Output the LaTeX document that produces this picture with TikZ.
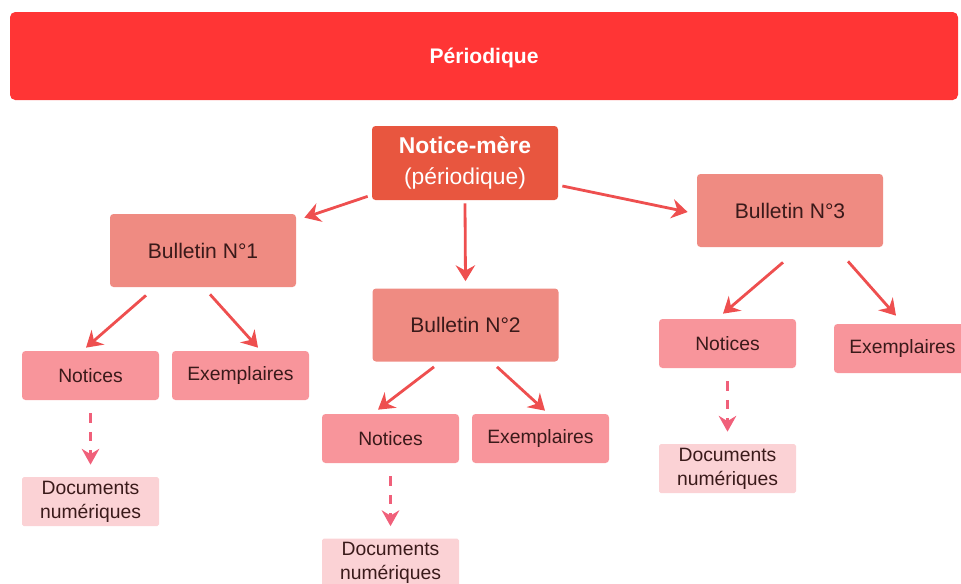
\documentclass[tikz,border=0pt]{standalone}
\usepackage{fontspec}
\setmainfont{Liberation Sans}
\usetikzlibrary{arrows.meta}

\definecolor{bannerred}{HTML}{FF3535}
\definecolor{merered}{HTML}{E8563F}
\definecolor{bulletinsalmon}{HTML}{EF8B82}
\definecolor{leafpink}{HTML}{F8959B}
\definecolor{docpink}{HTML}{FBD2D5}
\definecolor{arrowred}{HTML}{EE4F4F}
\definecolor{dasharrow}{HTML}{F0607A}
\definecolor{boxtext}{HTML}{3A1A1A}

\begin{document}
\begin{tikzpicture}[%
x=0.02cm, y=-0.02cm,
box/.style={rounded corners=2pt, inner sep=0pt, align=center, text=boxtext},
bulletin/.style={box, fill=bulletinsalmon, minimum width=186*0.02cm, minimum height=73*0.02cm, font=\fontsize{12}{14}\selectfont},
leaf/.style={box, fill=leafpink, minimum width=137*0.02cm, minimum height=49*0.02cm, font=\fontsize{11}{13}\selectfont},
docbox/.style={box, fill=docpink, rounded corners=1pt, minimum width=137*0.02cm, minimum height=49*0.02cm, font=\fontsize{11}{13.5}\selectfont},
link/.style={draw=arrowred, line width=1.6pt, -{Stealth[length=9pt,width=11pt,inset=3pt]}},
dashlink/.style={draw=dasharrow, line width=1.6pt, dash pattern=on 5.5pt off 5pt, -{Stealth[length=9pt,width=10pt,inset=3pt]}},
]
\useasboundingbox (0,0) rectangle (961,583);
\clip (0,0) rectangle (961,583);
%% banner;
\node [box, fill=bannerred, rounded corners=3pt, minimum width=948*0.02cm, minimum height=88*0.02cm, text=white, text height=8.6pt, text depth=0pt, font=\fontsize{12}{14}\selectfont\bfseries] (periodique) at (484,56) {Périodique};
%% notice-mere;
\node [box, fill=merered, minimum width=186*0.02cm, minimum height=74*0.02cm, text=white, font=\fontsize{13}{17.5}\selectfont] (mere) at (465,163) {\textbf{Notice-mère}\\(périodique)};
%% bulletins;
\node [bulletin] (bull1) at (203,250.5) {Bulletin N°1};
\node [bulletin] (bull2) at (465.5,325) {Bulletin N°2};
\node [bulletin] (bull3) at (790,210.5) {Bulletin N°3};
%% notices and exemplaires;
\node [leaf] (notices1) at (90.5,375.5) {Notices};
\node [leaf] (exemp1) at (240.5,375.5) {Exemplaires};
\node [leaf] (notices2) at (390.5,438.5) {Notices};
\node [leaf] (exemp2) at (540.5,438.5) {Exemplaires};
\node [leaf] (notices3) at (727.5,343.5) {Notices};
\node [leaf] (exemp3) at (902.5,348.5) {Exemplaires};
%% documents;
\node [docbox] (docs1) at (90.5,501.5) {Documents\\numériques};
\node [docbox] (docs2) at (390.5,563) {Documents\\numériques};
\node [docbox] (docs3) at (727.5,468.5) {Documents\\numériques};
%% arrows from notice-mere;
\draw [link] ([shift={(-4,-4)}]mere.south west) -- ([shift={(8,4)}]bull1.north east);
\draw [link] ([shift={(0,3)}]mere.south) -- ([shift={(0,-7)}]bull2.north);
\draw [link] ([shift={(4,23)}]mere.east) -- ([shift={(-9,1.5)}]bull3.west);
%% arrows from bulletins;
\draw [link] ([shift={(-57,8)}]bull1.south) -- ([shift={(-4.5,-3)}]notices1.north);
\draw [link] ([shift={(7,7)}]bull1.south) -- ([shift={(17.5,-3)}]exemp1.north);
\draw [link] ([shift={(-31.5,5)}]bull2.south) -- ([shift={(-12.5,-4)}]notices2.north);
\draw [link] ([shift={(31.5,5)}]bull2.south) -- ([shift={(4.5,-3)}]exemp2.north);
\draw [link] ([shift={(-7,15)}]bull3.south) -- ([shift={(-4.5,-5)}]notices3.north);
\draw [link] ([shift={(58,14)}]bull3.south) -- ([shift={(-6.5,-8)}]exemp3.north);
%% dashed arrows;
\draw [dashlink] ([shift={(0,13)}]notices1.south) -- ([shift={(0,-12)}]docs1.north);
\draw [dashlink] ([shift={(0,13)}]notices2.south) -- ([shift={(0,-12)}]docs2.north);
\draw [dashlink] ([shift={(0,13)}]notices3.south) -- ([shift={(0,-12)}]docs3.north);
\end{tikzpicture}
\end{document}
